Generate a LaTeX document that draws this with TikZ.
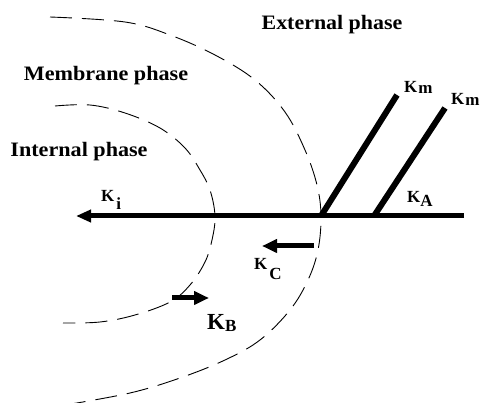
\documentclass[tikz,border=0pt]{standalone}
\usepackage{fontspec}
\setmainfont{Liberation Serif}
\usetikzlibrary{arrows.meta}
\tikzset{
  phase/.style={inner sep=0pt, anchor=base, font=\fontsize{20.5}{21}\selectfont\bfseries},
  klab/.style={inner sep=0pt, anchor=base west, font=\fontsize{17}{17}\selectfont\bfseries},
  bound/.style={line width=0.9pt, dash pattern=on 22pt off 10pt},
  flow/.style={line width=5pt, -{Triangle[length=15pt,width=13pt]}},
}
\newcommand\mysub[2]{\raisebox{-#1}{#2}}
\begin{document}
\begin{tikzpicture}[x=1pt,y=-1pt]
\useasboundingbox (0,0) rectangle (480,403);
% dashed boundaries
\draw[bound] plot[smooth, tension=0.6] coordinates {(50,17) (125,22) (170,35) (215,55) (255,80) (285,112) (305,150) (317,185) (321,216) (318,250) (308,280) (290,310) (260,340) (225,360) (180,378) (130,393) (65,405)};
\draw[bound] plot[smooth, tension=0.6] coordinates {(55,106) (90,105) (125,113) (160,128) (185,148) (200,170) (210,190) (215,216) (212,240) (205,262) (190,285) (170,302) (135,315) (100,322) (63,323)};
% main line and branches
\coordinate (R) at (464,216);
\coordinate (L) at (76,216);
\coordinate (J1) at (321,216);
\coordinate (J2) at (374,216);
\coordinate (T1) at (397,95);
\coordinate (T2) at (445,108);
\draw[line width=5pt, -{Triangle[length=15pt,width=12pt]}] (R) -- (L);
\draw[line width=6pt] (J1) -- (T1);
\draw[line width=6pt] (J2) -- (T2);
% small flux arrows
\coordinate (C1) at (314,246);
\coordinate (C2) at (262,246);
\coordinate (B1) at (172,298);
\coordinate (B2) at (209,298);
\draw[flow] (C1) -- (C2);
\draw[flow] (B1) -- (B2);
% phase labels
\node[phase] (ext) at (332,30) {\scalebox{1.07}[1]{External phase}};
\node[phase] (mem) at (106,81) {\scalebox{1.08}[1]{Membrane phase}};
\node[phase] (int) at (79,157) {\scalebox{1.08}[1]{Internal phase}};
% rate constants
\node[klab] (ki) at (101,202) {K\kern2pt\mysub{8pt}{i}};
\node[klab] (km1) at (404,93) {K\kern1pt\mysub{1pt}{m}};
\node[klab] (km2) at (451,105) {K\kern1pt\mysub{1pt}{m}};
\node[klab] (ka) at (407,203) {K\mysub{4pt}{A}};
\node[klab] (kc) at (254,270) {K\kern2pt\mysub{10pt}{C}};
\node[klab] (kb) at (207,330) {{\fontsize{23}{23}\selectfont K}\mysub{2pt}{B}};
\end{tikzpicture}
\end{document}
